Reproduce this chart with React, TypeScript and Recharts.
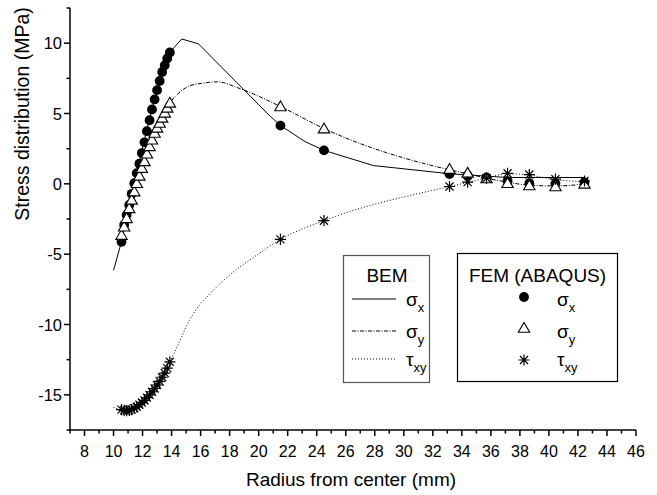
import React from 'react';
import { ComposedChart, Line, Scatter, XAxis, YAxis } from 'recharts';

// ---------- FEM (ABAQUS) nodes ----------
const feRadius = [10.55, 10.73, 10.9, 11.08, 11.25, 11.43, 11.6, 11.78, 11.95, 12.13, 12.3, 12.48, 12.65, 12.83, 13.0, 13.18, 13.35, 13.53, 13.7, 13.88, 21.5, 24.5, 33.15, 34.4, 35.7, 37.15, 38.65, 40.45, 42.45];
const feSigmaX = [-4.12, -2.93, -2.21, -1.5, -0.71, 0.05, 0.76, 1.43, 2.19, 2.95, 3.74, 4.52, 5.29, 6.0, 6.66, 7.31, 7.95, 8.43, 8.91, 9.34, 4.14, 2.38, 0.69, 0.59, 0.45, 0.2, 0.05, 0.02, 0.1];
const feSigmaY = [-3.64, -3.05, -2.45, -1.74, -1.14, -0.55, 0.05, 0.57, 1.12, 1.6, 2.14, 2.67, 3.14, 3.62, 3.98, 4.33, 4.69, 5.05, 5.4, 5.76, 5.5, 3.93, 1.05, 0.78, 0.38, 0.05, -0.12, -0.19, 0.0];
const feTauXY = [-16.05, -16.1, -16.12, -16.1, -16.05, -15.95, -15.85, -15.7, -15.55, -15.4, -15.2, -15.0, -14.78, -14.55, -14.3, -14.05, -13.75, -13.45, -13.1, -12.65, -3.95, -2.62, -0.19, 0.12, 0.4, 0.75, 0.66, 0.33, 0.2];

// ---------- BEM curves ----------
const bemSxRadius = [10.0, 10.55, 11.43, 12.3, 13.0, 13.88, 14.7, 15.85, 20.8, 21.5, 23.2, 24.5, 27.9, 33.15, 37.15, 42.45];
const bemSx = [-6.15, -4.1, 0.05, 3.9, 6.7, 9.35, 10.3, 9.95, 4.8, 4.15, 3.0, 2.38, 1.3, 0.72, 0.45, 0.45];
const bemSyRadius = [10.55, 11.6, 12.65, 13.88, 14.4, 15.2, 16.1, 17.2, 18.5, 21.5, 24.5, 33.15, 34.4, 35.7, 37.15, 38.65, 40.45, 42.45];
const bemSy = [-3.64, 0.05, 3.14, 5.76, 6.36, 6.95, 7.15, 7.25, 6.85, 5.5, 3.93, 1.0, 0.72, 0.4, 0.12, -0.1, -0.15, -0.02];
const bemTauRadius = [10.0, 10.9, 11.6, 12.48, 13.18, 13.88, 14.58, 15.04, 15.73, 16.65, 18.26, 19.87, 21.5, 24.5, 33.15, 34.4, 35.7, 37.15, 38.65, 40.45, 42.45];
const bemTau = [-15.9, -16.1, -15.85, -15.0, -14.05, -12.65, -11.14, -10.07, -8.88, -7.81, -6.26, -5.07, -3.95, -2.62, -0.19, 0.1, 0.4, 0.72, 0.62, 0.3, 0.15];

// ---------- axes ----------
const xTicks = [7, 8, 9, 10, 11, 12, 13, 14, 15, 16, 17, 18, 19, 20, 21, 22, 23, 24, 25, 26, 27, 28, 29, 30, 31, 32, 33, 34, 35, 36, 37, 38, 39, 40, 41, 42, 43, 44, 45, 46];
const yTicks = [-17.5, -15, -12.5, -10, -7.5, -5, -2.5, 0, 2.5, 5, 7.5, 10, 12.5];
const xTitle = 'Radius from center (mm)';
const yTitle = 'Stress distribution (MPa)';

const FONT = '"Liberation Sans", Arial, sans-serif';

const pairs = (xs: number[], ys: number[]) => xs.map((x, i) => ({ x, y: ys[i] }));
const feSx = pairs(feRadius, feSigmaX);
const feSy = pairs(feRadius, feSigmaY);
const feTau = pairs(feRadius, feTauXY);
const bemSxData = pairs(bemSxRadius, bemSx);
const bemSyData = pairs(bemSyRadius, bemSy);
const bemTauData = pairs(bemTauRadius, bemTau);

const CircleMark = ({ cx, cy }: any) => <circle cx={cx} cy={cy} r={4.9} fill="#000" />;
const TriMark = ({ cx, cy }: any) => (
  <path d={`M${cx},${cy - 5.5} L${cx + 5.7},${cy + 4.3} L${cx - 5.7},${cy + 4.3} Z`} fill="#fff" stroke="#000" strokeWidth={1.1} />
);
const StarMark = ({ cx, cy }: any) => {
  const r = 5.6;
  const d = r * 0.72;
  return (
    <path
      d={`M${cx},${cy - r} L${cx},${cy + r} M${cx - r},${cy} L${cx + r},${cy} M${cx - d},${cy - d} L${cx + d},${cy + d} M${cx - d},${cy + d} L${cx + d},${cy - d}`}
      stroke="#000"
      strokeWidth={1.2}
      fill="none"
    />
  );
};

const XTick = ({ x, y, payload }: any) => {
  const v = payload.value;
  const major = v % 2 === 0;
  return (
    <g>
      <line x1={x} x2={x} y1={y} y2={y + (major ? 6 : 3.5)} stroke="#000" strokeWidth={1.5} />
      {major && (
        <text x={x} y={y + 26.5} textAnchor="middle" fontSize={16} fontFamily={FONT} fill="#000">
          {v}
        </text>
      )}
    </g>
  );
};

const YTick = ({ x, y, payload }: any) => {
  const v = payload.value;
  const major = v % 5 === 0;
  return (
    <g>
      <line x1={x} x2={x - (major ? 6 : 3.5)} y1={y} y2={y} stroke="#000" strokeWidth={1.5} />
      {major && (
        <text x={x - 8} y={y + 6} textAnchor="end" fontSize={16.5} fontFamily={FONT} fill="#000">
          {v}
        </text>
      )}
    </g>
  );
};

const Sub = ({ x, y, main, sub }: any) => (
  <text x={x} y={y} fontSize={19} fontFamily={FONT} fill="#000">
    {main}
    <tspan dy={6} fontSize={13}>{sub}</tspan>
  </text>
);

const LegendOverlay = () => (
  <svg width={657} height={495} style={{ position: 'absolute', left: 0, top: 0, pointerEvents: 'none' }}>
    <rect x={343.5} y={255.5} width={86} height={127} fill="#fff" stroke="#555" strokeWidth={1.2} />
    <text x={387} y={282} textAnchor="middle" fontSize={19} fontFamily={FONT}>BEM</text>
    <line x1={352} x2={396} y1={299} y2={299} stroke="#000" strokeWidth={1} />
    <line x1={352} x2={396} y1={331} y2={331} stroke="#000" strokeWidth={1} strokeDasharray="4 1.5 1 1.5" />
    <line x1={352} x2={396} y1={359} y2={359} stroke="#000" strokeWidth={1} strokeDasharray="1 2" />
    <Sub x={406} y={306} main="σ" sub="x" />
    <Sub x={406} y={338} main="σ" sub="y" />
    <Sub x={406} y={366} main="τ" sub="xy" />

    <rect x={457.5} y={253.5} width={160} height={128} fill="#fff" stroke="#000" strokeWidth={1.2} />
    <text x={537.5} y={282} textAnchor="middle" fontSize={19} fontFamily={FONT}>FEM (ABAQUS)</text>
    <CircleMark cx={524} cy={297} />
    <TriMark cx={524} cy={328} />
    <StarMark cx={524} cy={360} />
    <Sub x={557} y={306} main="σ" sub="x" />
    <Sub x={557} y={338} main="σ" sub="y" />
    <Sub x={557} y={366} main="τ" sub="xy" />
  </svg>
);

export default function App() {
  return (
    <div style={{ position: 'absolute', left: 0, top: 0, width: 657, height: 495, background: '#fff' }}>
      <ComposedChart width={657} height={495} margin={{ top: 8, right: 21, bottom: 0, left: 0 }}>
        <XAxis
          type="number"
          dataKey="x"
          domain={[7, 46]}
          ticks={xTicks}
          interval={0}
          allowDataOverflow
          tickSize={0}
          tickMargin={0}
          tick={<XTick />}
          height={65}
          axisLine={{ stroke: '#000', strokeWidth: 1.5 }}
          label={{
            content: ({ viewBox }: any) => (
              <text x={viewBox.x + 281} y={viewBox.y + 56} textAnchor="middle" fontSize={19} fontFamily={FONT} fill="#000">
                {xTitle}
              </text>
            ),
          }}
        />
        <YAxis
          type="number"
          dataKey="y"
          domain={[-17.5, 12.5]}
          ticks={yTicks}
          interval={0}
          allowDataOverflow
          tickSize={0}
          tickMargin={0}
          tick={<YTick />}
          width={70}
          axisLine={{ stroke: '#000', strokeWidth: 1.5 }}
          label={{
            content: ({ viewBox }: any) => {
              const cx = viewBox.x + 22;
              const cy = viewBox.y + 106;
              return (
                <text x={cx} y={cy} transform={`rotate(-90 ${cx} ${cy})`} textAnchor="middle" dominantBaseline="central" fontSize={19.5} fontFamily={FONT} fill="#000">
                  {yTitle}
                </text>
              );
            },
          }}
        />
        <Line data={bemSxData} dataKey="y" type="linear" stroke="#000" strokeWidth={1} dot={false} activeDot={false} isAnimationActive={false} />
        <Line data={bemSyData} dataKey="y" type="monotone" stroke="#000" strokeWidth={1} strokeDasharray="4 1.5 1 1.5" dot={false} activeDot={false} isAnimationActive={false} />
        <Line data={bemTauData} dataKey="y" type="monotone" stroke="#000" strokeWidth={1} strokeDasharray="1 2" dot={false} activeDot={false} isAnimationActive={false} />
        <Scatter data={feSx} dataKey="y" shape={<CircleMark />} isAnimationActive={false} />
        <Scatter data={feSy} dataKey="y" shape={<TriMark />} isAnimationActive={false} />
        <Scatter data={feTau} dataKey="y" shape={<StarMark />} isAnimationActive={false} />
      </ComposedChart>
      <LegendOverlay />
    </div>
  );
}
